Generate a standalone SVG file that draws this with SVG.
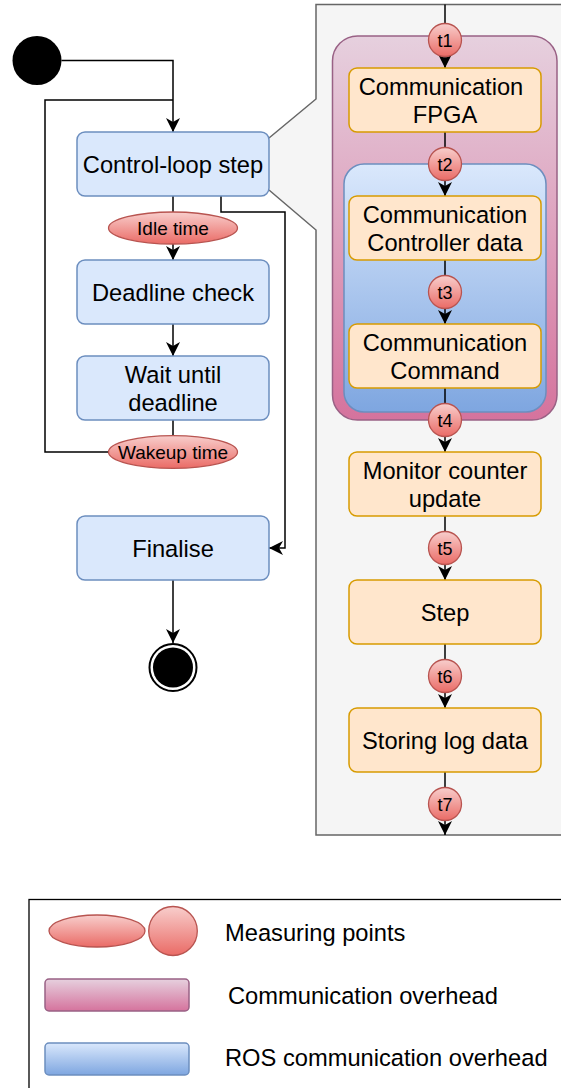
<svg xmlns="http://www.w3.org/2000/svg" width="561" height="1088" viewBox="0 0 561 1088">
  <style>
    text { font-family: "Liberation Sans", Arial, sans-serif; fill: #000; text-anchor: middle; }
    .lbl { font-size: 23.7px; }
    .sm { font-size: 19px; }
    .tl { font-size: 18px; }
    .leg { font-size: 23.7px; text-anchor: start; }
    .act { fill: #dae8fc; stroke: #6c8ebf; stroke-width: 1.5; }
    .task { fill: #ffe6cc; stroke: #d79b00; stroke-width: 1.5; }
    .mp { fill: url(#gRed); stroke: #b85450; stroke-width: 1.3; }
    .edge { fill: none; stroke: #000; stroke-width: 1.5; }
  </style>
  <defs>
    <linearGradient id="gRed" x1="0" y1="0" x2="0" y2="1">
      <stop offset="0" stop-color="#f8cecc"/>
      <stop offset="1" stop-color="#ea6b66"/>
    </linearGradient>
    <linearGradient id="gPink" x1="0" y1="0" x2="0" y2="1">
      <stop offset="0" stop-color="#e6d0de"/>
      <stop offset="1" stop-color="#d5739d"/>
    </linearGradient>
    <linearGradient id="gBlue" x1="0" y1="0" x2="0" y2="1">
      <stop offset="0" stop-color="#dae8fc"/>
      <stop offset="1" stop-color="#7ea6e0"/>
    </linearGradient>
    <marker id="arrow" viewBox="0 0 14 14" refX="14" refY="7" markerWidth="14" markerHeight="14" markerUnits="userSpaceOnUse" orient="auto">
      <path d="M0,0 L14,7 L0,14 L4,7 Z" fill="#000"/>
    </marker>
  </defs>

  <!-- detail panel (callout from the control-loop step) -->
  <g id="detail-panel">
    <path d="M316,4.5 H600 V835 H316 V230 L269,190 V138 L316,99 Z" fill="#f5f5f5" stroke="none"/>
    <path d="M600,4.5 H316 V99 L269,138 M269,190 L316,230 V835 H600" fill="none" stroke="#666666" stroke-width="1.5"/>
  </g>

  <!-- overhead containers -->
  <g id="comm-overhead">
    <rect x="332.5" y="36" width="224.5" height="384" rx="25" fill="url(#gPink)" stroke="#996185" stroke-width="1.5"/>
  </g>
  <g id="ros-overhead">
    <rect x="344" y="164" width="202" height="248" rx="20" fill="url(#gBlue)" stroke="#6c8ebf" stroke-width="1.5"/>
  </g>

  <!-- connectors -->
  <g id="connectors">
    <path class="edge" d="M61.5,60.5 H173 V132" marker-end="url(#arrow)"/>
    <path class="edge" d="M109,452 H45 V100 H173"/>
    <path class="edge" d="M173,196 V260" marker-end="url(#arrow)"/>
    <path class="edge" d="M221,196 V212 H285 V548 H269" marker-end="url(#arrow)"/>
    <path class="edge" d="M173,324 V356" marker-end="url(#arrow)"/>
    <path class="edge" d="M173,420 V436"/>
    <path class="edge" d="M173,580 V643" marker-end="url(#arrow)"/>

    <path class="edge" d="M445,4.5 V68" marker-end="url(#arrow)"/>
    <path class="edge" d="M445,132 V196" marker-end="url(#arrow)"/>
    <path class="edge" d="M445,260 V324" marker-end="url(#arrow)"/>
    <path class="edge" d="M445,388 V452" marker-end="url(#arrow)"/>
    <path class="edge" d="M445,516 V580" marker-end="url(#arrow)"/>
    <path class="edge" d="M445,644 V708" marker-end="url(#arrow)"/>
    <path class="edge" d="M445,772 V835" marker-end="url(#arrow)"/>
  </g>

  <!-- main loop -->
  <g id="start">
    <circle cx="37" cy="60.5" r="24.5" fill="#000"/>
  </g>
  <g id="control-loop-step">
    <rect class="act" x="77" y="132" width="192" height="64" rx="8"/>
    <text class="lbl" x="173" y="172.5">Control-loop step</text>
  </g>
  <g id="idle-time">
    <ellipse class="mp" cx="173" cy="228" rx="64.5" ry="16"/>
    <text class="sm" x="173" y="234.5">Idle time</text>
  </g>
  <g id="deadline-check">
    <rect class="act" x="77" y="260" width="192" height="64" rx="8"/>
    <text class="lbl" x="173" y="300.5">Deadline check</text>
  </g>
  <g id="wait-until-deadline">
    <rect class="act" x="77" y="356" width="192" height="64" rx="8"/>
    <text class="lbl" x="173" y="382.5">Wait until</text>
    <text class="lbl" x="173" y="410.5">deadline</text>
  </g>
  <g id="wakeup-time">
    <ellipse class="mp" cx="173" cy="452" rx="64.5" ry="16.3"/>
    <text class="sm" x="173" y="458.5">Wakeup time</text>
  </g>
  <g id="finalise">
    <rect class="act" x="77" y="516" width="192" height="64" rx="8"/>
    <text class="lbl" x="173" y="556.5">Finalise</text>
  </g>
  <g id="end">
    <circle cx="173" cy="667.5" r="23.5" fill="#fff" stroke="#000" stroke-width="2"/>
    <circle cx="173" cy="667.5" r="20" fill="#000"/>
  </g>

  <!-- step details -->
  <g id="comm-fpga">
    <rect class="task" x="349" y="68" width="192" height="64" rx="8"/>
    <text class="lbl" x="441" y="94.5">Communication</text>
    <text class="lbl" x="445" y="122.5">FPGA</text>
  </g>
  <g id="comm-controller-data">
    <rect class="task" x="349" y="196" width="192" height="64" rx="8"/>
    <text class="lbl" x="445" y="222.5">Communication</text>
    <text class="lbl" x="445" y="250.5">Controller data</text>
  </g>
  <g id="comm-command">
    <rect class="task" x="349" y="324" width="192" height="64" rx="8"/>
    <text class="lbl" x="445" y="350.5">Communication</text>
    <text class="lbl" x="445" y="378.5">Command</text>
  </g>
  <g id="monitor-counter-update">
    <rect class="task" x="349" y="452" width="192" height="64" rx="8"/>
    <text class="lbl" x="445" y="478.5">Monitor counter</text>
    <text class="lbl" x="445" y="506.5">update</text>
  </g>
  <g id="step">
    <rect class="task" x="349" y="580" width="192" height="64" rx="8"/>
    <text class="lbl" x="445" y="620.5">Step</text>
  </g>
  <g id="storing-log-data">
    <rect class="task" x="349" y="708" width="192" height="64" rx="8"/>
    <text class="lbl" x="445" y="748.5">Storing log data</text>
  </g>

  <!-- measuring points -->
  <g id="t1"><circle class="mp" cx="445" cy="40" r="16.5"/><text class="tl" x="445" y="46.5">t1</text></g>
  <g id="t2"><circle class="mp" cx="445" cy="164" r="16.5"/><text class="tl" x="445" y="170.5">t2</text></g>
  <g id="t3"><circle class="mp" cx="445" cy="292" r="16.5"/><text class="tl" x="445" y="298.5">t3</text></g>
  <g id="t4"><circle class="mp" cx="445" cy="420" r="16.5"/><text class="tl" x="445" y="426.5">t4</text></g>
  <g id="t5"><circle class="mp" cx="445" cy="548" r="16.5"/><text class="tl" x="445" y="554.5">t5</text></g>
  <g id="t6"><circle class="mp" cx="445" cy="676" r="16.5"/><text class="tl" x="445" y="682.5">t6</text></g>
  <g id="t7"><circle class="mp" cx="445" cy="804" r="16.5"/><text class="tl" x="445" y="810.5">t7</text></g>

  <!-- legend -->
  <g id="legend">
    <rect x="29" y="899.5" width="600" height="300" fill="#fff" stroke="#000" stroke-width="1.3"/>
    <ellipse class="mp" cx="97" cy="931" rx="48" ry="16"/>
    <ellipse class="mp" cx="173" cy="931" rx="24.3" ry="24.5"/>
    <text class="leg" x="225" y="940.5">Measuring points</text>
    <rect x="45" y="979" width="144" height="32" rx="4" fill="url(#gPink)" stroke="#996185" stroke-width="1.5"/>
    <text class="leg" x="228" y="1003.5">Communication overhead</text>
    <rect x="45" y="1043" width="144" height="32" rx="4" fill="url(#gBlue)" stroke="#6c8ebf" stroke-width="1.5"/>
    <text class="leg" x="225" y="1066">ROS communication overhead</text>
  </g>
</svg>
